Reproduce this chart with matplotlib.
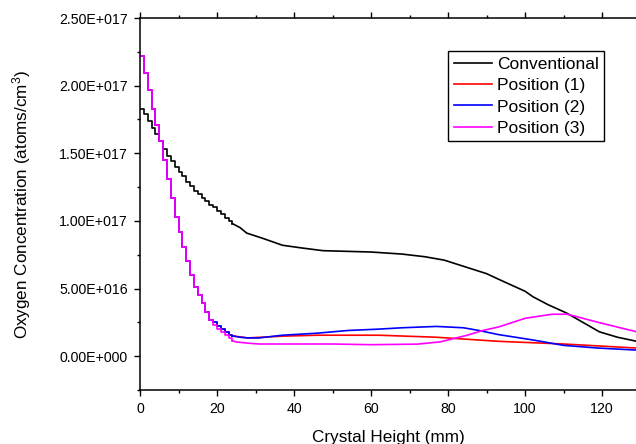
import numpy as np
import matplotlib
matplotlib.use("Agg")
import matplotlib.pyplot as plt
from matplotlib.ticker import MultipleLocator, FuncFormatter

plt.rcParams['font.family'] = ['Liberation Sans', 'DejaVu Sans']
plt.rcParams['mathtext.default'] = 'regular'

# ---- data (values in units of 1E17 atoms/cm^3) ----
# early region, 1 mm resolution (stair-step appearance)
x_early = [0, 1, 2, 3, 4, 5, 6, 7, 8, 9, 10, 11, 12, 13, 14, 15, 16, 17, 18, 19, 20, 21, 22, 23, 24]
conv_early = [1.83, 1.79, 1.74, 1.69, 1.64, 1.59, 1.53, 1.48, 1.44, 1.40, 1.36, 1.33, 1.29,
              1.26, 1.22, 1.20, 1.17, 1.15, 1.12, 1.10, 1.07, 1.05, 1.02, 1.00, 0.98]
pos1_early = [2.22, 2.09, 1.97, 1.83, 1.71, 1.59, 1.45, 1.31, 1.17, 1.03, 0.92, 0.81, 0.70,
              0.60, 0.51, 0.45, 0.39, 0.33, 0.27, 0.25, 0.22, 0.20, 0.18, 0.16, 0.15]
pos2_early = [2.22, 2.09, 1.97, 1.83, 1.71, 1.59, 1.45, 1.31, 1.17, 1.03, 0.92, 0.81, 0.70,
              0.60, 0.51, 0.45, 0.39, 0.33, 0.27, 0.25, 0.22, 0.20, 0.18, 0.16, 0.15]
pos3_early = [2.22, 2.09, 1.97, 1.83, 1.71, 1.59, 1.45, 1.31, 1.17, 1.03, 0.92, 0.81, 0.70,
              0.60, 0.51, 0.45, 0.39, 0.33, 0.27, 0.23, 0.20, 0.18, 0.16, 0.135, 0.115]

# later region, smooth
conv_x = [24, 26, 27.7, 32, 37, 42, 47.5, 60, 68, 74, 79, 85.6, 90, 93.4, 100, 102, 106,
          110.7, 115, 119.3, 124, 129]
conv_y = [0.98, 0.95, 0.91, 0.87, 0.82, 0.80, 0.78, 0.77, 0.755, 0.735, 0.71, 0.65, 0.61,
          0.565, 0.48, 0.44, 0.38, 0.32, 0.25, 0.18, 0.14, 0.11]
pos1_x = [24, 28, 37, 46, 62, 77, 93, 110, 129]
pos1_y = [0.15, 0.135, 0.148, 0.155, 0.155, 0.14, 0.11, 0.09, 0.06]
pos2_x = [24, 26, 28, 31, 37, 46, 54, 62, 68, 77, 84, 88, 93, 102, 110, 119, 129]
pos2_y = [0.15, 0.14, 0.135, 0.135, 0.155, 0.17, 0.19, 0.20, 0.21, 0.22, 0.21, 0.19, 0.16,
          0.12, 0.08, 0.06, 0.045]
pos3_x = [24, 25, 28.5, 31, 50, 60, 72, 78, 85, 89, 93, 100, 107, 111, 119, 129]
pos3_y = [0.115, 0.105, 0.095, 0.09, 0.09, 0.085, 0.089, 0.106, 0.155, 0.19, 0.215, 0.28,
          0.31, 0.31, 0.25, 0.18]

labels = ['Conventional', 'Position (1)', 'Position (2)', 'Position (3)']
colors = ['black', '#ff0000', '#0000ff', '#ff00ff']
scale = 1e17

fig = plt.figure(figsize=(6.36, 4.44), dpi=100)
ax = fig.add_axes([140/636, 1-390/444, 1-140/636, (390-18)/444])

series = [(conv_early, conv_x, conv_y), (pos1_early, pos1_x, pos1_y),
          (pos2_early, pos2_x, pos2_y), (pos3_early, pos3_x, pos3_y)]
handles = []
for (ye, xl, yl), c, lab in zip(series, colors, labels):
    h, = ax.plot(x_early, np.array(ye)*scale, color=c, lw=1.2, drawstyle='steps-post', label=lab)
    ax.plot(xl, np.array(yl)*scale, color=c, lw=1.2)
    handles.append(h)

ax.set_xlim(0, 128.8)
ax.set_ylim(-0.25e17, 2.5e17)

def fmt(v, pos):
    if abs(v) < 1e-9:
        return '0.00E+000'
    e = int(np.floor(np.log10(abs(v))))
    m = v / 10**e
    return f'{m:.2f}E{"+" if e >= 0 else "-"}{abs(e):03d}'

ax.yaxis.set_major_locator(MultipleLocator(0.5e17))
ax.yaxis.set_minor_locator(MultipleLocator(0.25e17))
ax.yaxis.set_major_formatter(FuncFormatter(fmt))
ax.xaxis.set_major_locator(MultipleLocator(20))
ax.xaxis.set_minor_locator(MultipleLocator(10))

ax.spines['right'].set_visible(False)
for s in ['left', 'bottom', 'top']:
    ax.spines[s].set_linewidth(1.1)

ax.tick_params(axis='both', which='major', direction='out', length=4.3, width=1.0,
               labelsize=10.2, pad=4.5)
ax.tick_params(axis='both', which='minor', direction='out', length=2.5, width=1.0)
ax.tick_params(axis='x', which='both', top=True, labeltop=False)
ax.tick_params(axis='y', which='both', right=False)

ax.set_xlabel('Crystal Height (mm)', fontsize=12.3, labelpad=10)
ax.set_ylabel('Oxygen Concentration (atoms/cm$^{3}$)', fontsize=12.3, labelpad=19)

leg = ax.legend(handles=handles, loc='upper left', bbox_to_anchor=(448/636, 1-51/444),
                bbox_transform=fig.transFigure, borderaxespad=0, fontsize=12.5,
                fancybox=False, frameon=True, edgecolor='black', framealpha=1,
                handlelength=2.2, handletextpad=0.3, labelspacing=0.36, borderpad=0.32)
leg.get_frame().set_linewidth(1.0)

fig.savefig('out.png', dpi=100)
